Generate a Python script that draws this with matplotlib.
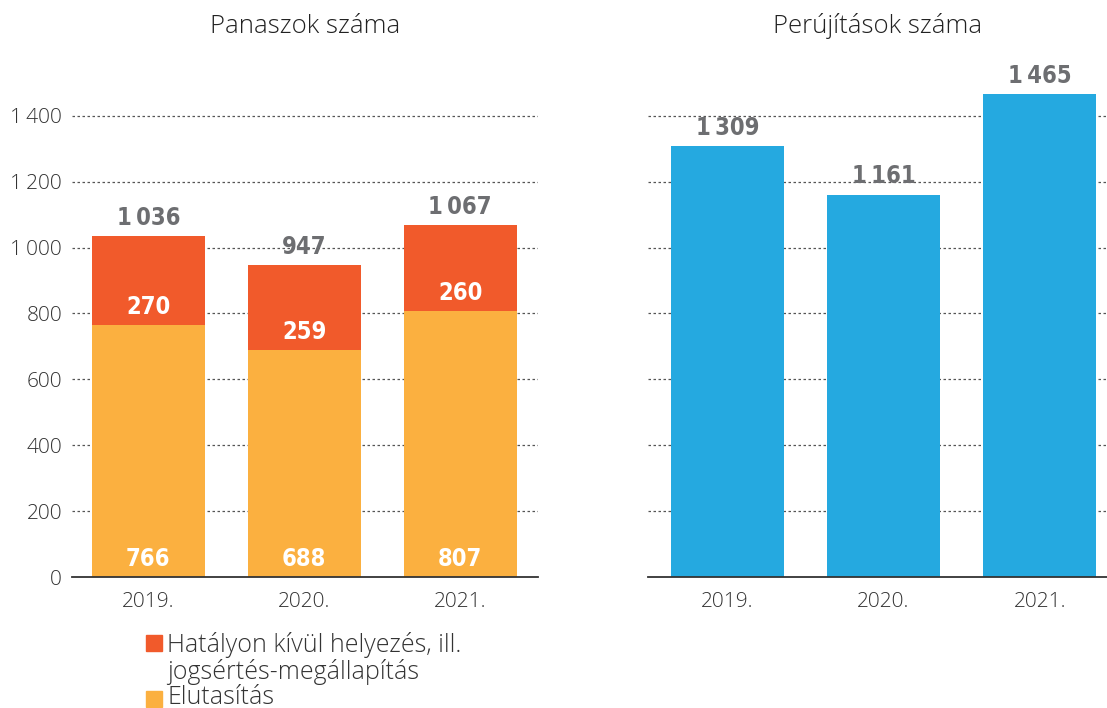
import matplotlib.pyplot as plt
from matplotlib.patches import Rectangle

years = ["2019.", "2020.", "2021."]
elutasitas = [766, 688, 807]
hatalyon_kivul = [270, 259, 260]
panasz_total = [1036, 947, 1067]
perujitas = [1309, 1161, 1465]
y_ticks = [0, 200, 400, 600, 800, 1000, 1200, 1400]

ORANGE = "#F15A2B"
YELLOW = "#FBB040"
BLUE = "#25A9E0"
GRAY = "#6D6E71"
TEXT = "#333333"

light = dict(family=["Open Sans", "DejaVu Sans"], weight="light", color=TEXT)
bold = dict(family=["DejaVu Sans"], weight="bold", stretch="condensed")


def fmt(v, sep="\u2009"):
    return f"{v:,}".replace(",", sep)


fig = plt.figure(figsize=(11.07, 7.08), dpi=100)
ax1 = fig.add_axes([0.065, 0.185, 0.421, 0.698])
ax2 = fig.add_axes([0.585, 0.185, 0.415, 0.698])

x = range(len(years))
w = 0.725
ax1.bar(x, elutasitas, w, color=YELLOW, zorder=3)
ax1.bar(x, hatalyon_kivul, w, bottom=elutasitas, color=ORANGE, zorder=3)
ax2.bar(x, perujitas, w, color=BLUE, zorder=3)

lbl = dict(textcoords="offset points", ha="center", va="center", fontsize=17, **bold)
for i in x:
    ax1.annotate(fmt(elutasitas[i]), (i, 0), xytext=(0, 13), color="white", **lbl)
    ax1.annotate(fmt(hatalyon_kivul[i]), (i, elutasitas[i]), xytext=(0, 13),
                 color="white", **lbl)
    ax1.annotate(fmt(panasz_total[i]), (i, panasz_total[i]), xytext=(0, 13),
                 color=GRAY, **lbl)
    ax2.annotate(fmt(perujitas[i]), (i, perujitas[i]), xytext=(0, 13),
                 color=GRAY, **lbl)

for ax, xlim in ((ax1, (-0.49, 2.5)), (ax2, (-0.51, 2.43))):
    ax.set_xlim(*xlim)
    ax.set_ylim(0, 1500)
    ax.set_yticks(y_ticks)
    ax.set_xticks(list(x))
    ax.set_xticklabels(years, fontsize=15, **light)
    ax.tick_params(axis="both", length=0)
    ax.tick_params(axis="x", pad=11)
    ax.tick_params(axis="y", pad=7)
    for s in ("top", "right", "left"):
        ax.spines[s].set_visible(False)
    ax.spines["bottom"].set_color("#333333")
    ax.spines["bottom"].set_linewidth(1.3)
    ax.spines["bottom"].set_zorder(4)
    for t in y_ticks[1:]:
        ax.axhline(t, color="#555555", lw=0.9, ls=(0, (2, 2)), zorder=1)

ax1.set_yticklabels([fmt(t) for t in y_ticks], fontsize=15, **light)
ax2.set_yticklabels([])

title_font = dict(fontsize=18.5, pad=36, family=["Open Sans", "DejaVu Sans"],
                  weight="light", color="#222222")
ax1.set_title("Panaszok száma", **title_font)
ax2.set_title("Perújítások száma", **title_font)

# legend drawn by hand so the square sits on the first line of the wrapped label
for color, y0 in ((ORANGE, 0.081), (YELLOW, 0.002)):
    fig.patches.append(Rectangle((0.1315, y0), 0.0145, 0.0225,
                                 transform=fig.transFigure, color=color, figure=fig))
legend_lines = [("Hatályon kívül helyezés, ill.", 0.079),
                ("jogsértés-megállapítás", 0.0415),
                ("Elutasítás", 0.006)]
for txt, yb in legend_lines:
    fig.text(0.151, yb, txt, fontsize=18, va="baseline", **light)

fig.savefig("out.png", dpi=100)
